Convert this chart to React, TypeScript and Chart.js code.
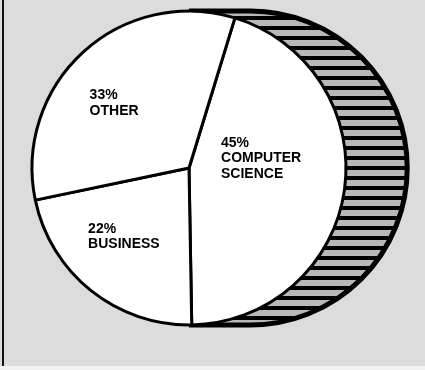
import React, { useEffect, useRef } from "react";
import { Chart, registerables } from "chart.js";

Chart.register(...registerables);

// ---- data ----
const categories = ["COMPUTER SCIENCE", "BUSINESS", "OTHER"];
const percentages = [45, 22, 33];

// ---- style ----
const START_ROTATION = 17; // degrees clockwise from 12 o'clock
const LABEL_RADIUS = [0.464, 0.597, 0.636];
const LABEL_ANGLE_SHIFT = [-16.3, 5.4, -6.2];
const LABEL_FONT = "bold 14px 'Liberation Sans', Arial, Helvetica, sans-serif";
const LINE_HEIGHT = 15.5;
const BG = "#dcdcdc";

function makeHatch(ctx: CanvasRenderingContext2D) {
  const c = document.createElement("canvas");
  c.width = 8;
  c.height = 10;
  const g = c.getContext("2d")!;
  g.fillStyle = "#b8b8b8";
  g.fillRect(0, 0, 8, 10);
  g.fillStyle = "#000";
  g.fillRect(0, 6, 8, 4);
  return ctx.createPattern(c, "repeat");
}

const backgroundPlugin = {
  id: "paperBackground",
  beforeDraw(chart: any) {
    const { ctx, width, height } = chart;
    ctx.save();
    ctx.fillStyle = "#f2f2f2";
    ctx.fillRect(0, 0, width, height);
    ctx.fillStyle = BG;
    ctx.fillRect(0, 0, width, height - 4);
    ctx.fillStyle = "#111";
    ctx.fillRect(2, 0, 2, height - 4);
    ctx.restore();
  },
};

const depthPlugin = {
  id: "pieDepth",
  beforeDatasetsDraw(chart: any) {
    const meta = chart.getDatasetMeta(0);
    if (!meta.data.length) return;
    const { x, y, outerRadius: r } = meta.data[0].getProps(["x", "y", "outerRadius"], true);
    const off = r * 0.39;
    const ctx = chart.ctx as CanvasRenderingContext2D;
    ctx.save();
    ctx.beginPath();
    ctx.moveTo(x, y - r);
    ctx.lineTo(x + off, y - r);
    ctx.arc(x + off, y, r, -Math.PI / 2, Math.PI / 2);
    ctx.lineTo(x, y + r);
    const pat = makeHatch(ctx);
    ctx.fillStyle = pat || "#888";
    ctx.fill();
    ctx.lineWidth = 5;
    ctx.strokeStyle = "#000";
    ctx.stroke();
    ctx.restore();
  },
};

const labelPlugin = {
  id: "sliceLabels",
  afterDatasetsDraw(chart: any) {
    const meta = chart.getDatasetMeta(0);
    const ctx = chart.ctx as CanvasRenderingContext2D;
    ctx.save();
    ctx.font = LABEL_FONT;
    ctx.fillStyle = "#000";
    ctx.textAlign = "left";
    ctx.textBaseline = "alphabetic";
    meta.data.forEach((arc: any, i: number) => {
      const { x, y, startAngle, endAngle, outerRadius } = arc.getProps(
        ["x", "y", "startAngle", "endAngle", "outerRadius"],
        true
      );
      const mid = (startAngle + endAngle) / 2 + (LABEL_ANGLE_SHIFT[i] * Math.PI) / 180;
      const d = outerRadius * LABEL_RADIUS[i];
      const cx = x + Math.cos(mid) * d;
      const cy = y + Math.sin(mid) * d;
      const lines = [`${percentages[i]}%`, ...categories[i].split(" ")];
      const w = Math.max(...lines.map((l) => ctx.measureText(l).width));
      const n = lines.length;
      lines.forEach((line, k) => {
        const capMid = cy + (k - (n - 1) / 2) * LINE_HEIGHT;
        ctx.fillText(line, cx - w / 2, capMid + 5);
      });
    });
    ctx.restore();
  },
};

export default function App() {
  const ref = useRef<HTMLCanvasElement | null>(null);
  useEffect(() => {
    if (!ref.current) return;
    const chart = new Chart(ref.current, {
      type: "pie",
      data: {
        labels: categories,
        datasets: [
          {
            data: percentages,
            backgroundColor: "#ffffff",
            borderColor: "#000000",
            borderWidth: 3,
            radius: 157,
          } as any,
        ],
      },
      options: {
        animation: false,
        responsive: false,
        events: [],
        rotation: START_ROTATION,
        layout: { padding: { left: 0, right: 47, top: 0, bottom: 34 } },
        plugins: {
          legend: { display: false },
          tooltip: { enabled: false },
        },
      } as any,
      plugins: [backgroundPlugin, depthPlugin, labelPlugin],
    });
    return () => chart.destroy();
  }, []);
  return (
    <div style={{ position: "fixed", left: 0, top: 0, width: 425, height: 370 }}>
      <canvas ref={ref} width={425} height={370} style={{ display: "block" }} />
    </div>
  );
}
